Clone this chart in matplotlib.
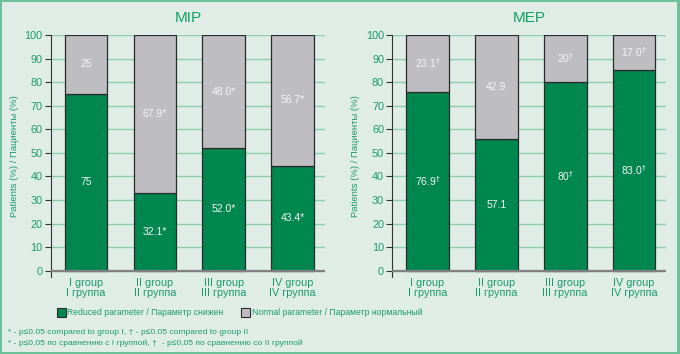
import numpy as np
import matplotlib.pyplot as plt
import matplotlib.patches as patches

plt.rcParams['font.family'] = ['Liberation Sans Narrow', 'Liberation Sans', 'DejaVu Sans']

# ── Data ──
groups = ["I group\nI группа", "II group\nII группа", "III group\nIII группа", "IV group\nIV группа"]

mip_reduced = [75, 32.8, 52.0, 44.5]
mip_reduced_lbl = ["75", "32.1*", "52.0*", "43.4*"]
mip_normal_lbl = ["25", "67.9*", "48.0*", "56.7*"]

mep_reduced = [76.0, 55.7, 80.0, 85.3]
mep_reduced_lbl = [r"76.9$^{\dagger}$", "57.1", r"80$^{\dagger}$", r"83.0$^{\dagger}$"]
mep_normal_lbl = [r"23.1$^{\dagger}$", "42.9", r"20$^{\dagger}$", r"17.0$^{\dagger}$"]

GREEN = "#00874f"
GREY = "#bebdc2"
BG = "#e0ede6"
TXT = "#1a9a6c"
TITLE = "#10a060"
GRID = "#8ccfae"
BORDER = "#6cc09a"

fig = plt.figure(figsize=(6.8, 3.54), dpi=100)
fig.patch.set_facecolor(BG)

# outer frame
for (x0, y0, w, h) in [(0, 0.995, 1, 0.005), (0, 0, 0.003, 1), (0.995, 0, 0.005, 1), (0, 0, 1, 0.006)]:
    fig.add_artist(patches.Rectangle((x0, y0), w, h, transform=fig.transFigure,
                                     facecolor=BORDER, edgecolor="none"))


def panel(rect, title, reduced, red_lbl, norm_lbl):
    ax = fig.add_axes(rect)
    ax.set_facecolor(BG)
    x = np.arange(len(groups))
    normal = [100 - r for r in reduced]
    ax.bar(x, reduced, width=0.62, color=GREEN, edgecolor="#2a2a2a", linewidth=0.9, zorder=3)
    ax.bar(x, normal, bottom=reduced, width=0.62, color=GREY, edgecolor="#2a2a2a",
           linewidth=0.9, zorder=3)
    for xi, r, n, lr, ln in zip(x, reduced, normal, red_lbl, norm_lbl):
        ax.text(xi, r / 2, lr, ha="center", va="center", color="#f4f4f4", fontsize=7.5, zorder=4)
        ax.text(xi, r + n / 2, ln, ha="center", va="center", color="#f4f4f4", fontsize=7.5, zorder=4)

    ax.set_xlim(-0.51, 3.47)
    ax.set_ylim(-2.5, 100)
    ax.set_yticks(range(0, 101, 10))
    ax.yaxis.grid(True, color=GRID, linewidth=1.0, zorder=0)
    ax.axhline(0, color="#808080", linewidth=1.6, zorder=4)
    for s in ["top", "right", "bottom"]:
        ax.spines[s].set_visible(False)
    ax.spines["left"].set_color("#333333")
    ax.spines["left"].set_linewidth(0.8)
    ax.spines["left"].set_bounds(-2.5, 100)
    ax.tick_params(axis="y", colors="#333333", labelcolor=TXT, labelsize=7.8,
                   length=4, width=0.8, pad=2)
    ax.set_xticks(x)
    ax.set_xticklabels(groups, fontsize=7.8, color=TXT, linespacing=1.05)
    ax.tick_params(axis="x", length=0, pad=1)
    ax.set_ylabel("Patients (%) / Пациенты (%)", fontsize=6.8, color=TXT, labelpad=4)
    ax.set_title(title, fontsize=11, color=TITLE, pad=9.5,
                 family=['Liberation Sans', 'DejaVu Sans'])
    return ax


panel([0.075, 0.2186, 0.403, 0.6825], "MIP", mip_reduced, mip_reduced_lbl, mip_normal_lbl)
panel([0.577, 0.2186, 0.403, 0.6825], "MEP", mep_reduced, mep_reduced_lbl, mep_normal_lbl)

# legend
handles = [patches.Patch(facecolor=GREEN, edgecolor="#2a2a2a", linewidth=0.8,
                         label="Reduced parameter / Параметр снижен"),
           patches.Patch(facecolor=GREY, edgecolor="#2a2a2a", linewidth=0.8,
                         label="Normal parameter / Параметр нормальный")]
leg = fig.legend(handles=handles, loc="center left", bbox_to_anchor=(0.072, 0.117), ncol=2,
                 frameon=False, fontsize=6.2, handlelength=1.1, handleheight=1.3,
                 handletextpad=0.15, columnspacing=2.0)
for t in leg.get_texts():
    t.set_color(TXT)

fig.text(0.012, 0.062, "* - p≤0.05 compared to group I, † - p≤0.05 compared to group II",
         fontsize=6.1, color=TXT, va="center")
fig.text(0.012, 0.030, "* - p≤0,05 по сравнению с I группой, †  - p≤0,05 по сравнению со II группой",
         fontsize=6.1, color=TXT, va="center")

fig.savefig("out.png", dpi=100, facecolor=BG)
